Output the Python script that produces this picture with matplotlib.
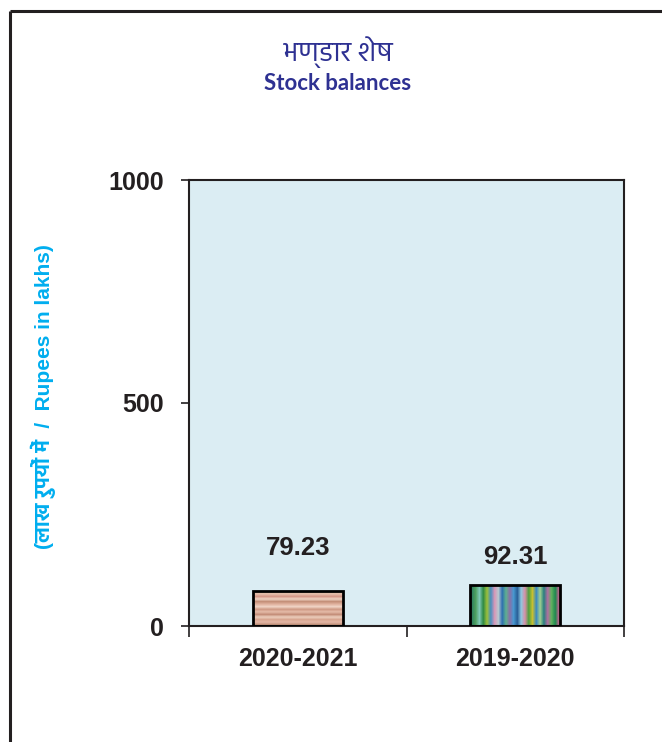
import matplotlib
matplotlib.use("Agg")
import matplotlib.pyplot as plt
import numpy as np
from matplotlib.lines import Line2D
from matplotlib.colors import to_rgb

# ---- data ----
categories = ["2020-2021", "2019-2020"]
values = [79.23, 92.31]
value_labels = ["79.23", "92.31"]
yticks = [0, 500, 1000]
ytick_labels = ["0", "500", "1000"]
title_hi = "भण्डार शेष"
title_en = "Stock balances"
ylabel = "(लाख रुपयों में  /  Rupees in lakhs)"

# ---- style ----
W, H, DPI = 662, 742, 100
DARK = "#231F20"
BG = "#DBEDF3"
TITLE_C = "#2E3192"
YLAB_C = "#00AEEF"
label_offsets_px = [31, 16]
stripes_h = ["#C9A08A", "#E6C2AE", "#D59888", "#EED3C3", "#C48F78", "#E0B29E",
             "#F0D4C6", "#CF9A84", "#E5BBA8", "#C48E78", "#EBCDBC", "#D8A690",
             "#E3B5A4", "#BF8E78"]
stripes_v = ["#2F7F5F", "#4FA060", "#7FC8B8", "#2F8A44", "#9CBF3A", "#4A90C0",
             "#D898B8", "#B8C8D0", "#2F6FB0", "#5EB090", "#8A70A8", "#4898D0",
             "#2A5F98", "#8FC8E0", "#D890A8", "#50A040", "#C8C030", "#3A8AC0",
             "#A0D090", "#2A7F80", "#B070A0", "#60B060", "#208A50", "#C86090"]

fig = plt.figure(figsize=(W / DPI, H / DPI), dpi=DPI)
ax = fig.add_axes([189 / W, 1 - 626 / H, 435 / W, 446 / H])
ax.set_facecolor(BG)

x = np.arange(len(categories))
bars = ax.bar(x, values, width=0.414, facecolor="none", edgecolor="black",
              linewidth=2.0, zorder=3)

textures = [
    np.array([to_rgb(c) for c in stripes_h])[:, None, :],
    np.array([to_rgb(c) for c in stripes_v])[None, :, :],
]
for b, tex in zip(bars, textures):
    x0, y0 = b.get_x(), b.get_y()
    im = ax.imshow(tex, extent=(x0, x0 + b.get_width(), y0, y0 + b.get_height()),
                   aspect="auto", interpolation="bilinear", zorder=2)
    im.set_clip_path(b)

for b, lab, off in zip(bars, value_labels, label_offsets_px):
    ax.annotate(lab, (b.get_x() + b.get_width() / 2, b.get_height()),
                xytext=(0, off * 72 / DPI), textcoords="offset points",
                ha="center", va="bottom", fontsize=18.5, fontweight="bold",
                family="Liberation Sans", color=DARK)

ax.set_xlim(-0.5, len(categories) - 0.5)
ax.set_ylim(0, 1000)
ax.set_yticks(yticks)
ax.set_yticklabels(ytick_labels)
ax.set_xticks(x)
ax.set_xticklabels(categories)
ax.set_xticks(np.arange(len(categories) + 1) - 0.5, minor=True)

ax.tick_params(axis="y", direction="out", length=6, width=1.2, color=DARK,
               pad=12, labelsize=18, labelcolor=DARK)
ax.tick_params(axis="x", which="major", length=0, pad=15, labelsize=18,
               labelcolor=DARK)
ax.tick_params(axis="x", which="minor", direction="out", length=8, width=1.2,
               color=DARK)
for t in ax.get_xticklabels() + ax.get_yticklabels():
    t.set_fontweight("bold")
    t.set_family("Liberation Sans")
for s in ax.spines.values():
    s.set_color(DARK)
    s.set_linewidth(1.5)

fig.text(43 / W, 1 - 397 / H, ylabel, rotation=90, ha="center", va="center",
         color=YLAB_C, fontsize=15, fontweight="bold",
         family=["Liberation Sans", "Hind"])

fig.text(338 / W, 1 - 52 / H, title_hi, ha="center", va="center",
         color=TITLE_C, fontsize=20, family=["Hind", "DejaVu Sans"])
fig.text(338 / W, 1 - 84 / H, title_en, ha="center", va="center",
         color=TITLE_C, fontsize=16, fontweight="bold", family="Lato")

bx, by = 10 / W, 1 - 11 / H
fig.add_artist(Line2D([bx, 1.0], [by, by], transform=fig.transFigure,
                      color=DARK, linewidth=2.2, solid_capstyle="butt"))
fig.add_artist(Line2D([bx, bx], [by, 0.0], transform=fig.transFigure,
                      color=DARK, linewidth=2.2, solid_capstyle="butt"))

fig.savefig("out.png", dpi=DPI)
